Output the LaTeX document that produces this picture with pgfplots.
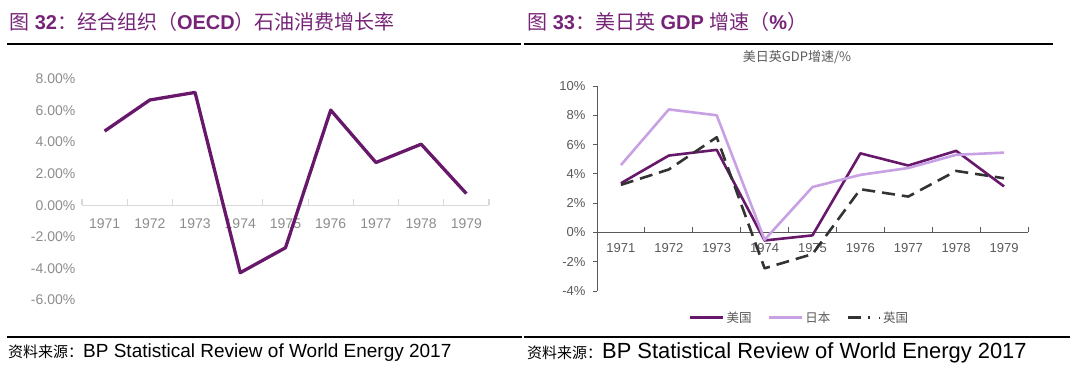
\documentclass[border=0pt]{standalone}
\usepackage{pgfplots}
\pgfplotsset{compat=1.18}
\usepackage{fontspec}
\setmainfont{Liberation Sans}
\newfontfamily\cjk{Noto Sans CJK SC}
\definecolor{hdr}{RGB}{118,36,120}
\definecolor{usp}{RGB}{104,24,106}
\definecolor{jpp}{RGB}{200,160,228}
\definecolor{ukg}{RGB}{51,51,51}
\definecolor{lgray}{RGB}{140,140,140}
\definecolor{dgray}{RGB}{89,89,89}
\definecolor{zline}{RGB}{217,217,217}
\begin{document}
\begin{tikzpicture}[x=1pt,y=1pt]
\useasboundingbox (0,0) rectangle (1080,370);
% headers
\node[anchor=west, text=hdr, inner sep=0, font=\fontsize{20}{23}\selectfont] at (9,348)
  {{\cjk 图} \textbf{32}{\cjk ：经合组织（}\textbf{OECD}{\cjk ）石油消费增长率}};
\node[anchor=west, text=hdr, inner sep=0, font=\fontsize{20}{23}\selectfont] at (527,348)
  {{\cjk 图} \textbf{33}{\cjk ：美日英} \textbf{GDP} {\cjk 增速（}\textbf{\%}{\cjk ）}};
\draw[line width=1.2pt] (7,326) -- (521,326);
\draw[line width=1.2pt] (524,326) -- (1053,326);
\draw[line width=1.2pt] (7,33) -- (522,33);
\draw[line width=1.2pt] (524,33) -- (1070,33);
\node[anchor=west, inner sep=0, font=\fontsize{15}{18}\selectfont] at (8,17)
  {{\cjk 资料来源：}\fontsize{19}{21}\selectfont BP Statistical Review of World Energy 2017};
\node[anchor=west, inner sep=0, font=\fontsize{15}{18}\selectfont] at (527,17)
  {{\cjk 资料来源：}\fontsize{21.9}{24}\selectfont BP Statistical Review of World Energy 2017};

% left chart
\begin{axis}[at={(82pt,70pt)}, anchor=south west, scale only axis,
  width=407pt, height=221pt,
  xmin=-0.5, xmax=8.5, ymin=-6, ymax=8,
  axis x line=middle, axis y line=left,
  x axis line style={-, draw=zline, line width=1.5pt},
  y axis line style={draw=none},
  tick align=center,
  xtick={0,...,8}, xticklabels={1971,1972,1973,1974,1975,1976,1977,1978,1979},
  major x tick style={draw=none},
  minor xtick={-0.5,0.5,...,8.5},
  minor tick length=6pt,
  minor x tick style={draw=zline, line width=1.2pt, yshift=3pt},
  ytick={-6,-4,...,8},
  yticklabels={-6.00\%,-4.00\%,-2.00\%,0.00\%,2.00\%,4.00\%,6.00\%,8.00\%},
  major y tick style={draw=none},
  tick label style={font=\fontsize{14}{16}\selectfont, text=lgray},
  xticklabel style={yshift=-8pt},
  yticklabel style={xshift=-1pt},
  clip=false]
\addplot[usp, line width=3.3pt, line join=round] coordinates {
 (0,4.70) (1,6.67) (2,7.15) (3,-4.27) (4,-2.69) (5,6.03) (6,2.71) (7,3.87) (8,0.74)};
\end{axis}

% right chart
\node[font=\fontsize{13}{15}\selectfont\cjk, text=dgray] at (797,313) {美日英GDP增速/\%};
\begin{axis}[at={(597pt,79pt)}, anchor=south west, scale only axis,
  width=431pt, height=205pt,
  xmin=-0.5, xmax=8.5, ymin=-4, ymax=10,
  axis x line=middle, axis y line=left,
  x axis line style={-, draw=dgray, line width=0.9pt},
  y axis line style={-, draw=dgray, line width=0.9pt},
  tick align=center,
  xtick={0,...,8}, xticklabels={1971,1972,1973,1974,1975,1976,1977,1978,1979},
  major x tick style={draw=none},
  minor xtick={-0.5,0.5,...,8.5},
  minor tick length=5pt,
  minor x tick style={draw=dgray, line width=0.9pt, yshift=2.5pt},
  ytick={-4,-2,...,10},
  yticklabels={-4\%,-2\%,0\%,2\%,4\%,6\%,8\%,10\%},
  major tick length=4pt,
  major y tick style={draw=dgray, line width=0.9pt, xshift=-2pt},
  tick label style={font=\fontsize{13}{15}\selectfont, text=dgray},
  xticklabel style={yshift=-5pt},
  yticklabel style={xshift=-6pt},
  legend columns=3,
  legend style={draw=none, fill=none, at={(0.47,-0.13)}, anchor=center,
    font=\fontsize{12.5}{15}\selectfont\cjk, text=dgray,
    /tikz/every even column/.append style={column sep=14pt}},
  legend image code/.code={\draw[#1] (0pt,0pt) -- (33pt,0pt);},
  clip=false]
\addplot[usp, line width=2.6pt, line join=round] coordinates {
 (0,3.36) (1,5.25) (2,5.64) (3,-0.55) (4,-0.2) (5,5.4) (6,4.57) (7,5.57) (8,3.14)};
\addlegendentry{美国}
\addplot[jpp, line width=2.6pt, line join=round] coordinates {
 (0,4.6) (1,8.4) (2,8.0) (3,-0.5) (4,3.1) (5,3.93) (6,4.4) (7,5.3) (8,5.45)};
\addlegendentry{日本}
\addplot[ukg, line width=2.6pt, dash pattern=on 13pt off 7pt, line join=round,
  legend image code/.code={\draw[ukg, line width=2.6pt] (0pt,0pt) -- (22pt,0pt); \draw[ukg, line width=2pt] (31pt,0pt) -- (32.5pt,0pt);}] coordinates {
 (0,3.25) (1,4.3) (2,6.5) (3,-2.45) (4,-1.48) (5,2.95) (6,2.45) (7,4.2) (8,3.7)};
\addlegendentry{英国}
\end{axis}
\end{tikzpicture}
\end{document}
